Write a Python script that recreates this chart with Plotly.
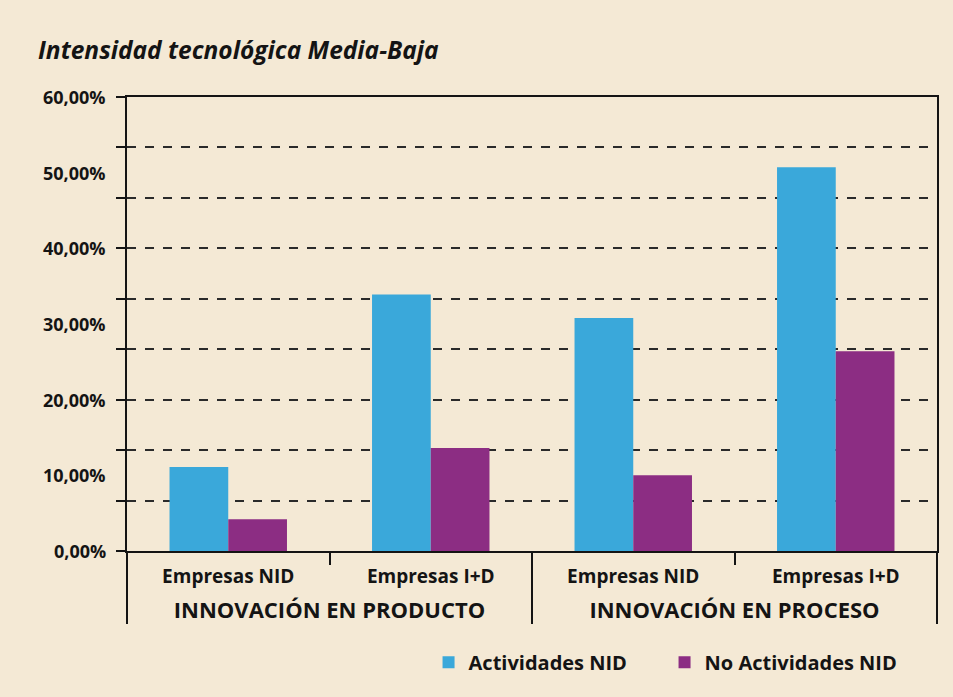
import plotly.graph_objects as go

group_names = ["INNOVACIÓN EN PRODUCTO", "INNOVACIÓN EN PRODUCTO", "INNOVACIÓN EN PROCESO", "INNOVACIÓN EN PROCESO"]
categories = ["Empresas NID", "Empresas I+D", "Empresas NID", "Empresas I+D"]
actividades_nid = [11.1, 33.9, 30.8, 50.7]
no_actividades_nid = [4.2, 13.6, 10.0, 26.4]
y_labels_vals = [0, 10, 20, 30, 40, 50, 60]
y_labels_text = ["0,00%", "10,00%", "20,00%", "30,00%", "40,00%", "50,00%", "60,00%"]
grid_vals = [i * 60 / 9 for i in range(10)]

BG = "#F4E9D5"
FONT = "Open Sans"
INK = "#141414"

groups = ["<span style='font-size:22px;baseline-shift:-14px'>%s</span>" % g for g in group_names]

fig = go.Figure()
fig.add_trace(go.Bar(x=[groups, categories], y=actividades_nid, name="Actividades NID",
                     marker=dict(color="#3AA8DA", line=dict(width=0))))
fig.add_trace(go.Bar(x=[groups, categories], y=no_actividades_nid, name="No Actividades NID",
                     marker=dict(color="#8C2D83", line=dict(width=0))))

annotations = []
for v, t in zip(y_labels_vals, y_labels_text):
    annotations.append(dict(x=0, xref="paper", y=v, yref="y", text=t, showarrow=False,
                            xanchor="right", yanchor="middle", xshift=-19,
                            font=dict(family=FONT, size=18, color=INK, weight="bold")))

fig.update_layout(
    width=953, height=697,
    paper_bgcolor=BG, plot_bgcolor=BG,
    margin=dict(l=127, r=16, t=97, b=146),
    barmode="group", bargap=0.42, bargroupgap=0,
    title=dict(text="<i>Intensidad tecnológica Media-Baja</i>", x=38/953, xref="container",
               xanchor="left", y=1-50/697, yref="container", yanchor="middle",
               font=dict(family=FONT, size=24.5, color=INK, weight="bold")),
    xaxis=dict(type="multicategory", showline=True, linecolor=INK, linewidth=1.5, mirror=True,
               ticks="outside", tickson="boundaries", ticklen=12, tickcolor=INK, tickwidth=1.5,
               showdividers=True, dividercolor=INK, dividerwidth=1.5, ticklabelstandoff=7,
               tickfont=dict(family=FONT, size=19, color=INK, weight="bold"), showgrid=False),
    yaxis=dict(range=[0, 60], tickmode="array", tickvals=grid_vals, showticklabels=False,
               ticks="outside", ticklen=9, tickcolor=INK, tickwidth=1.5,
               showgrid=True, gridcolor="#2a2a2a", gridwidth=1.5, griddash="dash",
               showline=True, linecolor=INK, linewidth=1.5, mirror=True, zeroline=False),
    legend=dict(orientation="h", x=0.955, xanchor="right", y=-0.245, yanchor="middle",
                font=dict(family=FONT, size=20, color=INK, weight="bold"),
                bgcolor="rgba(0,0,0,0)", itemwidth=30, traceorder="normal",
                entrywidth=191, entrywidthmode="pixels"),
    annotations=annotations,
)

fig.write_html("out.html", config={"displayModeBar": False},
               post_script="document.body.style.margin='0px';")
